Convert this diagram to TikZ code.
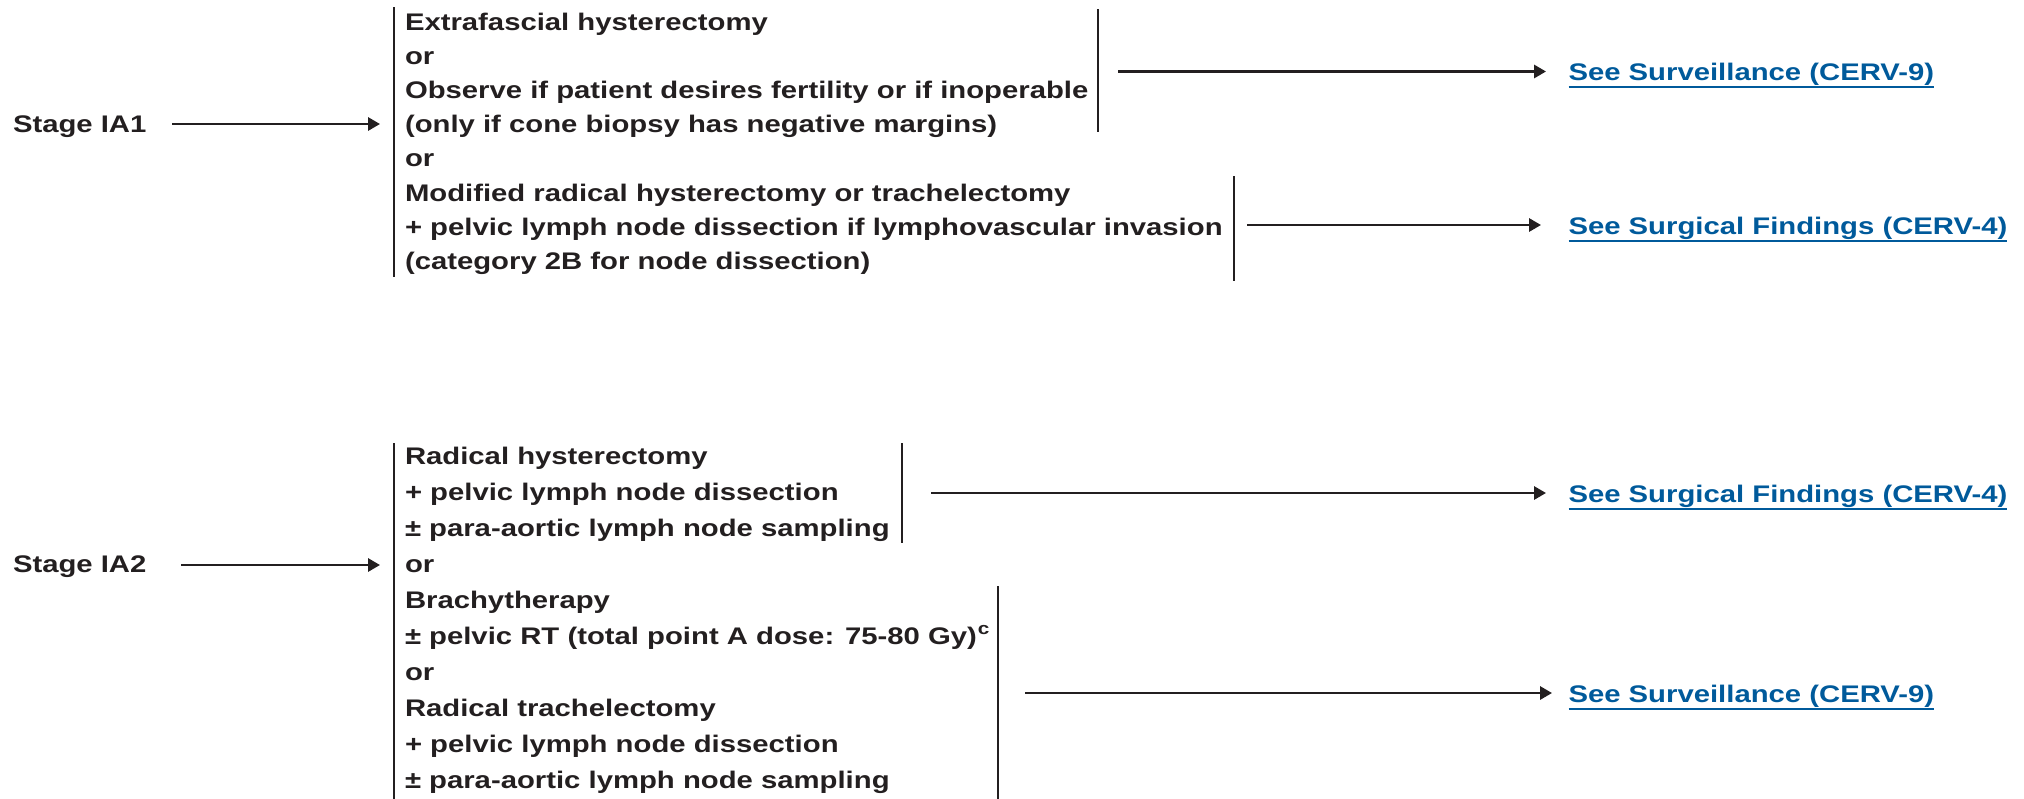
\documentclass[tikz,border=0pt]{standalone}
\usepackage{fontspec}
\setmainfont{Liberation Sans}[FakeStretch=1.22]
\usetikzlibrary{arrows.meta}
\definecolor{ink}{HTML}{231F20}
\definecolor{linkblue}{RGB}{0,90,155}
\newcommand{\supc}{\kern0.5pt\raisebox{5pt}{\fontsize{8.5}{9}\selectfont c}}
\begin{document}
\begin{tikzpicture}[x=0.5pt,y=-0.5pt,
  txt/.style={anchor=base west, inner sep=0pt, outer sep=0pt, font=\fontsize{12}{14}\selectfont\bfseries, text=ink},
  lnk/.style={txt, text=linkblue},
  ul/.style={draw=linkblue, line width=1pt},
  bar/.style={draw=ink, line width=1.2pt},
  arr/.style={draw=ink, line width=1.25pt, -{Triangle[length=6pt,width=6.6pt]}},
]
\useasboundingbox (0,0) rectangle (2024,798);

% stage labels
\node[txt] (s1) at (13,132) {Stage IA1};
\node[txt] (s2) at (13,572) {Stage IA2};

% IA1 options
\node[txt] (t1a) at (405,30.5) {Extrafascial hysterectomy};
\node[txt] (t1b) at (405,64.6) {or};
\node[txt] (t1c) at (405,98.7) {Observe if patient desires fertility or if inoperable};
\node[txt] (t1d) at (405,132.8) {(only if cone biopsy has negative margins)};
\node[txt] (t1e) at (405,166.9) {or};
\node[txt] (t1f) at (405,201) {Modified radical hysterectomy or trachelectomy};
\node[txt] (t1g) at (405,235.1) {+ pelvic lymph node dissection if lymphovascular invasion};
\node[txt] (t1h) at (405,269.2) {(category 2B for node dissection)};

% IA2 options
\node[txt] (t2a) at (405,464) {Radical hysterectomy};
\node[txt] (t2b) at (405,500.1) {+ pelvic lymph node dissection};
\node[txt] (t2c) at (405,536.2) {± para-aortic lymph node sampling};
\node[txt] (t2d) at (405,572.3) {or};
\node[txt] (t2e) at (405,608.4) {Brachytherapy};
\node[txt] (t2f) at (405,644.5) {± pelvic RT (total point A dose: 75-80 Gy)\supc};
\node[txt] (t2g) at (405,680.6) {or};
\node[txt] (t2h) at (405,716.7) {Radical trachelectomy};
\node[txt] (t2i) at (405,752.8) {+ pelvic lymph node dissection};
\node[txt] (t2j) at (405,788.9) {± para-aortic lymph node sampling};

% links
\node[lnk] (L1) at (1568.5,80) {See Surveillance (CERV-9)};
\node[lnk] (L2) at (1568.5,234) {See Surgical Findings (CERV-4)};
\node[lnk] (L3) at (1568.5,502) {See Surgical Findings (CERV-4)};
\node[lnk] (L4) at (1568.5,702) {See Surveillance (CERV-9)};
\foreach \n in {L1,L2,L3,L4}
  \draw[ul] ([yshift=-3.3pt]\n.base west) -- ([yshift=-3.3pt]\n.base east);

% bracket bars
\coordinate (b0t) at (394,7);    \coordinate (b0b) at (394,277);
\coordinate (b1t) at (1098,9);   \coordinate (b1b) at (1098,132);
\coordinate (b2t) at (1234,176); \coordinate (b2b) at (1234,281);
\coordinate (c0t) at (394,443);  \coordinate (c0b) at (394,800);
\coordinate (c1t) at (902,443);  \coordinate (c1b) at (902,543);
\coordinate (c2t) at (998,586);  \coordinate (c2b) at (998,800);
\draw[bar] (b0t) -- (b0b);
\draw[bar] (b1t) -- (b1b);
\draw[bar] (b2t) -- (b2b);
\draw[bar] (c0t) -- (c0b);
\draw[bar] (c1t) -- (c1b);
\draw[bar] (c2t) -- (c2b);

% arrow endpoints
\coordinate (s1a) at (172,124);  \coordinate (s1e) at (380,124);
\coordinate (s2a) at (181,565);  \coordinate (s2e) at (380,565);
\coordinate (a1) at (1118,71.5);  \coordinate (a1e) at (1546,71.5);
\coordinate (a2) at (1247,225);   \coordinate (a2e) at (1541,225);
\coordinate (a3) at (931,493);    \coordinate (a3e) at (1546,493);
\coordinate (a4) at (1025,693);   \coordinate (a4e) at (1552,693);

\draw[arr] (s1a) -- (s1e);
\draw[arr] (s2a) -- (s2e);
\draw[arr] (a1) -- (a1e);
\draw[arr] (a2) -- (a2e);
\draw[arr] (a3) -- (a3e);
\draw[arr] (a4) -- (a4e);
\end{tikzpicture}
\end{document}
